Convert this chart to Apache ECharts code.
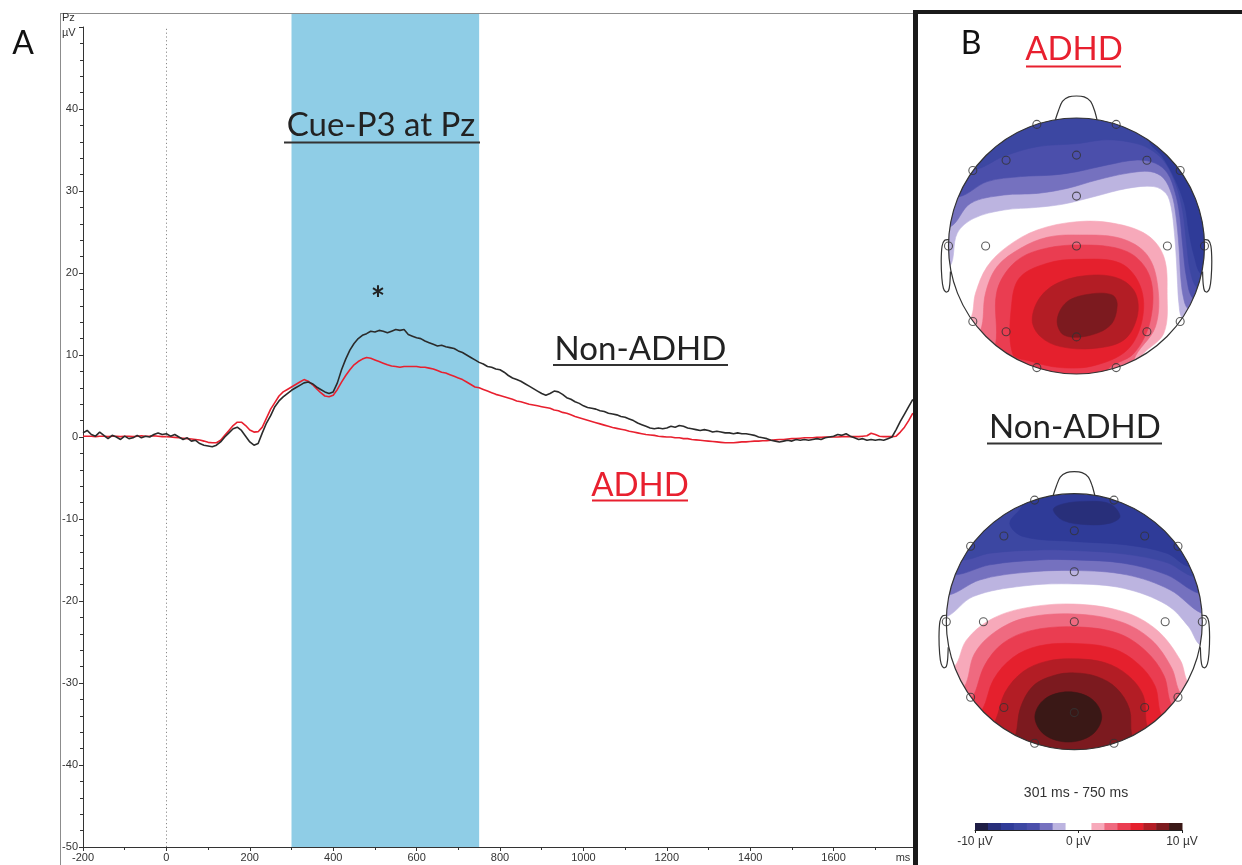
<!DOCTYPE html>
<html><head><meta charset="utf-8">
<script src="https://cdn.jsdelivr.net/npm/echarts@6/dist/echarts.min.js"></script>
<style>html,body{margin:0;padding:0;background:#fff}#c{width:1242px;height:865px}</style>
</head><body><div id="c"></div>
<script>
// ---------- ERP data (Pz, µV), sampled every 10 ms from -200 ms ----------
const T_START = -200, T_STEP = 10;
const NON_ADHD = [
 0.5,0.8,0.3,0.1,0.6,0.2,-0.2,0.2,0.0,-0.3,
 0.1,-0.2,-0.1,0.2,-0.1,0.1,0.0,0.3,0.5,0.3,
 0.4,0.1,0.3,0.0,-0.3,-0.1,-0.5,-0.4,-0.8,-1.0,
 -1.1,-1.2,-1.0,-0.6,0.0,0.5,1.0,1.2,0.8,0.1,
 -0.6,-1.0,-0.8,0.5,1.7,2.6,3.7,4.4,4.9,5.3,
 5.7,6.0,6.3,6.6,6.7,6.5,6.1,5.8,5.5,5.3,
 5.5,6.6,8.2,9.5,10.6,11.4,12.0,12.4,12.6,12.9,
 12.8,13.0,12.9,12.7,12.9,13.1,13.0,13.1,12.5,12.3,
 12.1,12.0,11.7,11.5,11.3,11.1,11.2,11.0,10.9,10.8,
 10.5,10.3,10.0,9.7,9.4,9.1,8.9,8.6,8.5,8.3,
 8.2,7.9,7.5,7.2,7.0,6.8,6.5,6.2,5.9,5.6,
 5.3,5.1,5.3,5.6,5.5,5.2,4.8,4.6,4.3,4.1,
 3.8,3.6,3.5,3.4,3.2,3.1,2.9,2.8,2.7,2.5,
 2.4,2.2,2.0,1.7,1.5,1.3,1.1,1.0,1.1,1.0,
 1.1,1.3,1.2,1.4,1.3,1.1,1.0,0.9,0.8,0.9,
 0.8,0.6,0.7,0.6,0.5,0.5,0.4,0.5,0.4,0.4,
 0.3,0.2,0.0,-0.1,-0.2,-0.4,-0.5,-0.6,-0.5,-0.4,
 -0.5,-0.3,-0.4,-0.3,-0.4,-0.3,-0.2,-0.3,-0.1,0.0,
 0.1,0.3,0.2,0.4,0.1,-0.1,-0.3,-0.2,-0.4,-0.3,
 -0.4,-0.3,-0.4,-0.2,0.0,0.9,1.9,2.8,3.7,4.6
];
const ADHD = [
 0.1,0.1,0.1,0.05,0.1,0.1,0.05,0.1,0.1,0.05,
 0.1,0.1,0.05,0.1,0.15,0.1,0.12,0.15,0.1,0.05,
 0.04,0.0,-0.05,-0.1,-0.15,-0.2,-0.25,-0.3,-0.37,-0.5,
 -0.65,-0.7,-0.7,-0.4,0.2,0.8,1.4,1.8,1.8,1.4,
 0.85,0.6,0.65,1.2,2.3,3.4,4.2,5.0,5.5,5.8,
 6.1,6.4,6.7,7.0,6.8,6.4,5.9,5.4,5.0,4.9,
 5.1,5.8,6.7,7.5,8.2,8.8,9.2,9.5,9.7,9.6,
 9.4,9.2,9.0,8.8,8.65,8.6,8.5,8.6,8.6,8.6,
 8.6,8.5,8.5,8.4,8.3,8.1,7.9,7.8,7.6,7.4,
 7.2,7.0,6.7,6.4,6.1,6.0,5.8,5.6,5.4,5.2,
 5.05,4.9,4.75,4.6,4.4,4.3,4.15,4.0,3.9,3.8,
 3.7,3.6,3.5,3.3,3.2,3.0,2.9,2.7,2.5,2.35,
 2.2,2.05,1.9,1.75,1.6,1.45,1.3,1.15,1.05,0.95,
 0.85,0.7,0.6,0.5,0.4,0.3,0.25,0.2,0.1,0.05,
 0.0,0.0,-0.1,-0.1,-0.2,-0.2,-0.3,-0.35,-0.4,-0.45,
 -0.5,-0.55,-0.6,-0.65,-0.7,-0.7,-0.7,-0.65,-0.6,-0.6,
 -0.55,-0.5,-0.5,-0.45,-0.45,-0.4,-0.35,-0.3,-0.3,-0.25,
 -0.2,-0.2,-0.15,-0.1,-0.1,-0.1,-0.05,-0.05,0.0,0.0,
 0.0,0.0,0.05,0.05,0.05,0.05,0.05,0.1,0.15,0.45,
 0.3,0.1,0.05,0.05,0.05,0.1,0.6,1.2,2.0,2.9
];
const CUE_WINDOW = [300, 750];           // ms
const X_RANGE = [-200, 1800];
const Y_RANGE = [-50, 50];

// ---------- Topographic maps (head coords: radius 1, y up) ----------
const ELECTRODES = [[-0.31,0.95],[0.31,0.95],[-0.55,0.67],[0,0.71],[0.55,0.67],[-0.81,0.59],[0.81,0.59],[0,0.39],
 [-1,0],[-0.71,0],[0,0],[0.71,0],[1,0],[-0.81,-0.59],[-0.55,-0.67],[0,-0.71],[0.55,-0.67],[0.81,-0.59],[-0.31,-0.95],[0.31,-0.95]];
const COLORBAR_STEPS = [-10,-8.75,-7.5,-6.25,-5,-3.75,-2.5,-1.25,0,1.25,2.5,3.75,5,6.25,7.5,8.75,10];
const COLORBAR_LEVELS = ['L7','L6','L5','L4','L3','L2','L1','W','W','R1','R2','R3','R4','R5','R6','R7'];
// iso-potential band outlines (close: 1 = region above, -1 = region below, 0 = closed blob)
const ADHD_BANDS = [
 {level:'L1', close:1, pts:[[-0.99,-0.161],[-0.932,0.099],[-0.802,0.216],[-0.568,0.281],[-0.307,0.302],[-0.099,0.328],[0.135,0.385],[0.396,0.45],[0.604,0.464],[0.70,0.41],[0.74,0.30],[0.765,0.1],[0.78,-0.1],[0.79,-0.3],[0.80,-0.45],[0.826,-0.565]]},
 {level:'L2', close:1, pts:[[-0.984,0.151],[-0.828,0.333],[-0.568,0.398],[-0.307,0.411],[-0.073,0.45],[0.161,0.516],[0.396,0.568],[0.578,0.581],[0.68,0.53],[0.745,0.40],[0.775,0.25],[0.80,0.0],[0.815,-0.25],[0.835,-0.40],[0.87,-0.49]]},
 {level:'L3', close:1, pts:[[-0.919,0.385],[-0.698,0.503],[-0.4375,0.542],[-0.177,0.555],[0.005,0.581],[0.24,0.633],[0.474,0.672],[0.617,0.646],[0.71,0.57],[0.77,0.42],[0.805,0.25],[0.83,0.0],[0.86,-0.25],[0.91,-0.41]]},
 {level:'L4', close:1, pts:[[-0.80,0.60],[-0.57,0.70],[-0.307,0.776],[0.005,0.80],[0.24,0.83],[0.47,0.80],[0.6,0.74],[0.7,0.64],[0.78,0.47],[0.83,0.27],[0.86,0.02],[0.89,-0.2],[0.945,-0.33]]},
 {level:'L5', close:1, pts:[[0.57,0.82],[0.67,0.70],[0.77,0.52],[0.845,0.32],[0.88,0.1],[0.92,-0.08],[0.975,-0.22]]},
 {level:'R1', close:-1, pts:[[-0.828,-0.565],[-0.789,-0.37],[-0.698,-0.161],[-0.542,-0.005],[-0.307,0.125],[0.005,0.19],[0.292,0.177],[0.552,0.086],[0.682,-0.083],[0.708,-0.37],[0.682,-0.682],[0.50,-0.878]]},
 {level:'R2', close:-1, pts:[[-0.75,-0.66],[-0.711,-0.37],[-0.62,-0.161],[-0.4375,-0.018],[-0.229,0.068],[0.005,0.086],[0.344,0.06],[0.552,-0.07],[0.635,-0.318],[0.617,-0.63],[0.448,-0.894]]},
 {level:'R3', close:-1, pts:[[-0.633,-0.774],[-0.625,-0.37],[-0.516,-0.161],[-0.333,-0.044],[0.005,0.008],[0.396,-0.044],[0.573,-0.24],[0.578,-0.578],[0.448,-0.839],[0.24,-0.97]]},
 {level:'R4', close:0, pts:[[-0.50,-0.84],[-0.503,-0.422],[-0.4375,-0.24],[-0.229,-0.135],[0.005,-0.104],[0.344,-0.135],[0.5,-0.318],[0.513,-0.578],[0.396,-0.8125],[0.135,-0.935],[-0.125,-0.95],[-0.36,-0.90]]},
 {level:'R5', close:0, pts:[[-0.346,-0.578],[-0.281,-0.396],[-0.125,-0.279],[0.135,-0.227],[0.344,-0.26],[0.461,-0.37],[0.474,-0.552],[0.37,-0.734],[0.135,-0.80],[-0.125,-0.786],[-0.281,-0.708]]},
 {level:'R6', close:0, pts:[[-0.151,-0.578],[-0.073,-0.435],[0.109,-0.375],[0.279,-0.383],[0.318,-0.461],[0.266,-0.617],[0.083,-0.703],[-0.099,-0.695]]}
];
const NON_ADHD_BANDS = [
 {level:'L1', close:1, pts:[[-0.997,0.039],[-0.791,0.196],[-0.40,0.279],[0,0.295],[0.384,0.261],[0.723,0.131],[0.893,-0.039],[0.984,-0.183]]},
 {level:'L2', close:1, pts:[[-0.979,0.209],[-0.739,0.326],[-0.40,0.384],[0,0.40],[0.41,0.366],[0.749,0.248],[0.997,0.065]]},
 {level:'L3', close:1, pts:[[-0.932,0.366],[-0.661,0.444],[-0.269,0.483],[0,0.483],[0.384,0.457],[0.723,0.366],[0.974,0.222]]},
 {level:'L4', close:1, pts:[[-0.877,0.483],[-0.661,0.535],[-0.269,0.561],[0,0.556],[0.384,0.53],[0.723,0.462],[0.937,0.352]]},
 {level:'L5', close:1, pts:[[-0.407,0.914],[-0.504,0.77],[-0.40,0.666],[0,0.627],[0.41,0.60],[0.723,0.535],[0.90,0.431]]},
 {level:'L6', close:0, pts:[[-0.164,0.876],[-0.088,0.92],[0.09,0.94],[0.28,0.92],[0.357,0.822],[0.28,0.77],[0.105,0.758],[-0.085,0.79]]},
 {level:'R1', close:-1, pts:[[-0.937,-0.352],[-0.843,-0.144],[-0.66,0.013],[-0.40,0.104],[-0.008,0.138],[0.384,0.078],[0.645,-0.065],[0.828,-0.30],[0.893,-0.483]]},
 {level:'R2', close:-1, pts:[[-0.86,-0.51],[-0.78,-0.25],[-0.62,-0.08],[-0.38,0.03],[0.0,0.06],[0.36,0.0],[0.6,-0.14],[0.76,-0.36],[0.83,-0.56]]},
 {level:'R3', close:-1, pts:[[-0.80,-0.60],[-0.70,-0.34],[-0.56,-0.17],[-0.34,-0.07],[0.0,-0.04],[0.34,-0.09],[0.56,-0.23],[0.70,-0.42],[0.76,-0.65]]},
 {level:'R4', close:-1, pts:[[-0.72,-0.69],[-0.63,-0.45],[-0.48,-0.28],[-0.28,-0.19],[0.0,-0.17],[0.3,-0.21],[0.5,-0.33],[0.63,-0.5],[0.68,-0.73]]},
 {level:'R5', close:-1, pts:[[-0.62,-0.78],[-0.54,-0.55],[-0.40,-0.39],[-0.22,-0.31],[0.0,-0.29],[0.24,-0.32],[0.42,-0.42],[0.54,-0.58],[0.57,-0.82]]},
 {level:'R6', close:-1, pts:[[-0.46,-0.89],[-0.42,-0.67],[-0.32,-0.50],[-0.16,-0.42],[0.0,-0.40],[0.18,-0.43],[0.33,-0.52],[0.43,-0.68],[0.45,-0.89]]},
 {level:'R7', close:0, pts:[[-0.308,-0.744],[-0.232,-0.605],[-0.047,-0.548],[0.138,-0.605],[0.214,-0.744],[0.138,-0.883],[-0.047,-0.94],[-0.232,-0.883]]}
];
// head outline template (nose, ears)
const NOSE = [[-0.165,0.986],[-0.14,1.06],[-0.11,1.13],[-0.06,1.165],[0,1.172],[0.06,1.165],[0.11,1.13],[0.14,1.06],[0.16,0.987]];
const LEFT_EAR = [[-0.995,0.05],[-1.03,0.045],[-1.05,0.0],[-1.057,-0.12],[-1.052,-0.25],[-1.04,-0.33],[-1.02,-0.36],[-1.0,-0.35],[-0.99,-0.3],[-0.985,-0.2]];

// ---------- styles ----------
const LEVEL_COLORS = {L7:'#1e1d45',L6:'#282f7a',L5:'#2f3b98',L4:'#3c47a2',L3:'#4b4fab',L2:'#7571bf',L1:'#bcb4e0',W:'#ffffff',
  R1:'#f7a9ba',R2:'#ef6a80',R3:'#ea3d51',R4:'#e5202d',R5:'#b31d25',R6:'#7c1a1f',R7:'#3a1816'};
const RED = '#e8202f', BLACK = '#2b2b2b';
const SMALL_FONT = 'Liberation Sans';
const BIG_FONT = 'Lato';

const chart = echarts.init(document.getElementById('c'));
const blackData = NON_ADHD.map((v,i)=>[T_START + i*T_STEP, v]);
const redData = ADHD.map((v,i)=>[T_START + i*T_STEP, v]);

function outsideArc(from, to, dir){
  const R = 1.15;
  const a0 = Math.atan2(from[1], from[0]);
  let a1 = Math.atan2(to[1], to[0]);
  if (dir > 0) { while (a1 <= a0) a1 += 2*Math.PI; } else { while (a1 >= a0) a1 -= 2*Math.PI; }
  const n = Math.max(2, Math.ceil(Math.abs(a1-a0)/(Math.PI/12)));
  const out = [];
  for (let i=0;i<=n;i++){ const a = a0 + (a1-a0)*i/n; out.push([R*Math.cos(a), R*Math.sin(a)]); }
  return out;
}
function bandSeries(bands, gi){
  return {type:'custom', xAxisIndex:gi, yAxisIndex:gi, z:2, silent:true,
    data: bands.map((b,i)=>[0,0,i]),
    renderItem:(params, api)=>{
      const b = bands[params.dataIndex];
      let pts = b.pts;
      if (b.close) pts = pts.concat(outsideArc(pts[pts.length-1], pts[0], b.close));
      const c = LEVEL_COLORS[b.level];
      return {type:'polygon', shape:{points: pts.map(p=>api.coord(p)), smooth:0.35},
              style:{fill:c, stroke:c, lineWidth:0.6}};
    }};
}
function maskSeries(gi){
  return {type:'custom', xAxisIndex:gi, yAxisIndex:gi, z:3, silent:true, data:[[0,0]],
    renderItem:(params, api)=>{
      const E = 1.25;
      const pts = [[-E,0],[-E,E],[E,E],[E,-E],[-E,-E],[-E,0]];
      for (let k=0;k<=180;k++){ const a = Math.PI + 2*Math.PI*k/180; pts.push([Math.cos(a), Math.sin(a)]); }
      return {type:'polygon', shape:{points: pts.map(p=>api.coord(p))}, style:{fill:'#ffffff'}};
    }};
}
function outlineSeries(gi){
  return {type:'custom', xAxisIndex:gi, yAxisIndex:gi, z:4, silent:true, data:[[0,0]],
    renderItem:(params, api)=>{
      const c = api.coord([0,0]); const r = api.size([1,1])[0];
      const st = {fill:'none', stroke:'#333', lineWidth:1.2};
      const right = LEFT_EAR.map(p=>[-p[0], p[1]]);
      return {type:'group', children:[
        {type:'circle', shape:{cx:c[0], cy:c[1], r:r}, style:st},
        {type:'polyline', shape:{points: NOSE.map(p=>api.coord(p)), smooth:0.3}, style:st},
        {type:'polyline', shape:{points: LEFT_EAR.map(p=>api.coord(p)), smooth:0.3}, style:st},
        {type:'polyline', shape:{points: right.map(p=>api.coord(p)), smooth:0.3}, style:st}
      ]};
    }};
}
function electrodeSeries(gi){
  return {type:'scatter', xAxisIndex:gi, yAxisIndex:gi, z:5, silent:true, data: ELECTRODES,
    symbol:'circle', symbolSize:8, itemStyle:{color:'rgba(255,255,255,0)', borderColor:'#333', borderWidth:1.1}};
}
const hiddenAxis = (gi, min, max)=>({gridIndex:gi, type:'value', min, max, show:false});

const HEAD_A = {cx:1076.5, cy:246}, HEAD_N = {cx:1074.3, cy:621.7};

function txt(x,y,text,font,fill,align){
  return {type:'text', x, y, z:100, silent:true,
    style:{text, font, fill, textAlign:align||'center', textVerticalAlign:'middle', align:align||'center', verticalAlign:'middle'}};
}
function uline(x1,x2,y,stroke,w){
  return {type:'line', z:100, silent:true, shape:{x1,y1:y,x2,y2:y}, style:{stroke, lineWidth:w||2}};
}

const option = {
  animation:false,
  backgroundColor:'#ffffff',
  grid:[
    {left:83, top:27, width:834, height:820},
    {left:83, top:13, width:834, height:834},
    {left:HEAD_A.cx-160, top:HEAD_A.cy-160, width:320, height:320},
    {left:HEAD_N.cx-160, top:HEAD_N.cy-160, width:320, height:320},
    {left:975, top:823, width:207, height:7}
  ],
  xAxis:[
    {gridIndex:0, type:'value', min:X_RANGE[0], max:X_RANGE[1], interval:200, position:'bottom',
     axisLine:{show:true, onZero:false, lineStyle:{color:'#333', width:1}},
     axisTick:{show:true, length:4, lineStyle:{color:'#333'}},
     minorTick:{show:true, splitNumber:2, length:3, lineStyle:{color:'#333'}},
     splitLine:{show:false}, minorSplitLine:{show:false},
     axisLabel:{fontSize:11, color:'#333', fontFamily:SMALL_FONT, margin:5, showMaxLabel:true,
       formatter:v=> v===1800 ? '' : String(v)}},
    hiddenAxis(1, X_RANGE[0], X_RANGE[1]),
    hiddenAxis(2, -1.25, 1.25),
    hiddenAxis(3, -1.25, 1.25),
    {gridIndex:4, type:'value', min:-10, max:10, interval:10, position:'bottom',
     axisLine:{show:true, onZero:false, lineStyle:{color:'#222', width:1}},
     axisTick:{show:true, length:3, lineStyle:{color:'#222'}},
     splitLine:{show:false},
     axisLabel:{fontSize:12, color:'#333', fontFamily:SMALL_FONT, margin:6, formatter:v=>v+' µV'}}
  ],
  yAxis:[
    {gridIndex:0, type:'value', min:Y_RANGE[0], max:Y_RANGE[1], interval:10, position:'left',
     axisLine:{show:true, onZero:false, lineStyle:{color:'#333', width:1}},
     axisTick:{show:true, length:4, lineStyle:{color:'#333'}},
     minorTick:{show:true, splitNumber:5, length:3, lineStyle:{color:'#333'}},
     splitLine:{show:false}, minorSplitLine:{show:false},
     axisLabel:{fontSize:11, color:'#333', fontFamily:SMALL_FONT, margin:5,
       formatter:v=> v===50 ? '' : String(v)}},
    hiddenAxis(1, 0, 1),
    hiddenAxis(2, -1.25, 1.25),
    hiddenAxis(3, -1.25, 1.25),
    hiddenAxis(4, 0, 1)
  ],
  series:[
    {type:'custom', name:'Cue window', xAxisIndex:1, yAxisIndex:1, z:1, silent:true, data:[CUE_WINDOW],
     renderItem:(params, api)=>{
       const a = api.coord([api.value(0), 1]), b = api.coord([api.value(1), 0]);
       return {type:'rect', shape:{x:a[0], y:a[1], width:b[0]-a[0], height:b[1]-a[1]}, style:{fill:'#8fcde6'}};
     }},
    {type:'line', name:'ADHD', xAxisIndex:0, yAxisIndex:0, data:redData, showSymbol:false, symbol:'none', z:3, silent:true,
     lineStyle:{color:RED, width:1.6}},
    {type:'line', name:'Non-ADHD', xAxisIndex:0, yAxisIndex:0, data:blackData, showSymbol:false, symbol:'none', z:4, silent:true,
     lineStyle:{color:BLACK, width:1.6},
     markLine:{silent:true, symbol:['none','none'], label:{show:false}, animation:false,
       lineStyle:{color:'#8a8a8a', width:1, type:[1.2,2.6]}, data:[{xAxis:0}]}},
    bandSeries(ADHD_BANDS, 2), bandSeries(NON_ADHD_BANDS, 3),
    maskSeries(2), maskSeries(3),
    outlineSeries(2), outlineSeries(3),
    electrodeSeries(2), electrodeSeries(3),
    {type:'custom', name:'Colorbar', xAxisIndex:4, yAxisIndex:4, z:2, silent:true,
     data: COLORBAR_LEVELS.map((l,i)=>[COLORBAR_STEPS[i], COLORBAR_STEPS[i+1], i]),
     renderItem:(params, api)=>{
       const a = api.coord([api.value(0), 1]), b = api.coord([api.value(1), 0]);
       const col = LEVEL_COLORS[COLORBAR_LEVELS[params.dataIndex]];
       return {type:'rect', shape:{x:a[0], y:a[1], width:b[0]-a[0]+0.5, height:b[1]-a[1]}, style:{fill:col}};
     }}
  ],
  graphic:{elements:[
    {type:'line', z:100, silent:true, shape:{x1:60, y1:13.5, x2:914, y2:13.5}, style:{stroke:'#8c8c8c', lineWidth:1}},
    {type:'line', z:100, silent:true, shape:{x1:60.5, y1:13, x2:60.5, y2:865}, style:{stroke:'#8c8c8c', lineWidth:1}},
    {type:'line', z:100, silent:true, shape:{x1:915.5, y1:10, x2:915.5, y2:865}, style:{stroke:'#1a1a1a', lineWidth:5}},
    {type:'line', z:100, silent:true, shape:{x1:913, y1:12, x2:1242, y2:12}, style:{stroke:'#1a1a1a', lineWidth:4}},
    txt(23, 44, 'A', '32px '+BIG_FONT, '#111'),
    txt(971, 44, 'B', '32px '+BIG_FONT, '#111'),
    txt(381, 125, 'Cue-P3 at Pz', '33px '+BIG_FONT, '#222'), uline(284, 480, 142.5, '#333', 2),
    txt(378, 300, '*', 'bold 34px '+BIG_FONT, '#222'),
    txt(640.5, 349, 'Non-ADHD', '33px '+BIG_FONT, '#222'), uline(553, 728, 365, '#333', 2),
    txt(640, 485, 'ADHD', '33px '+BIG_FONT, RED), uline(592, 688, 500.5, RED, 2),
    txt(1074, 49, 'ADHD', '33px '+BIG_FONT, RED), uline(1026, 1121, 66.5, RED, 2),
    txt(1075, 427, 'Non-ADHD', '33px '+BIG_FONT, '#222'), uline(987, 1162, 443.5, '#333', 2),
    txt(1076, 793, '301 ms - 750 ms', '14px '+SMALL_FONT, '#333'),
    txt(62, 18, 'Pz', '11px '+SMALL_FONT, '#333', 'left'),
    txt(62, 33, 'µV', '11px '+SMALL_FONT, '#333', 'left'),
    txt(903, 858, 'ms', '11px '+SMALL_FONT, '#333')
  ]}
};
chart.setOption(option);
</script></body></html>
